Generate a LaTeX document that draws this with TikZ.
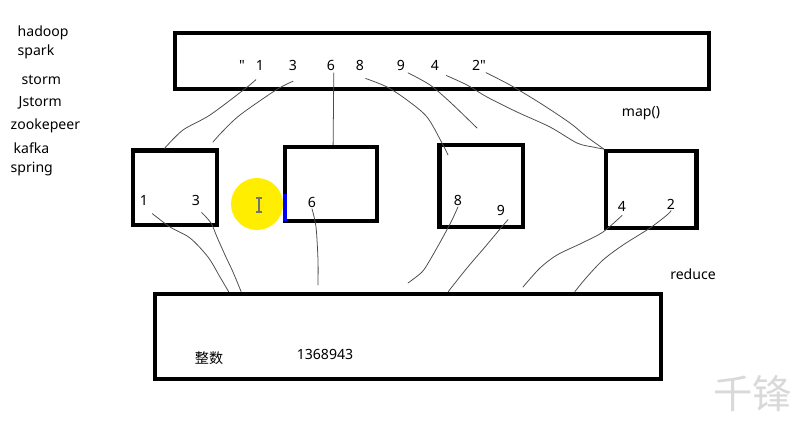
\documentclass[tikz,border=0pt]{standalone}
\usepackage{fontspec}
\setmainfont{Noto Sans}
\newfontfamily\cjk{Noto Sans CJK SC}
\newfontfamily\qfont{Noto Sans}[Ligatures=TeXOff]
\usepackage{xcolor}
\usetikzlibrary{positioning}

\definecolor{cursorhl}{RGB}{255,238,0}
\newcommand{\dq}{{\qfont\char34}}

\begin{document}
\begin{tikzpicture}[
  x=0.025cm, y=-0.025cm,
  box/.style={rectangle, draw, line width=3pt, inner sep=0pt},
  txt/.style={font=\fontsize{10}{12}\selectfont, inner sep=1pt},
  num/.style={txt, anchor=base},
  tool/.style={txt, anchor=base west},
  wire/.style={draw=black!70, line width=0.55pt, line cap=round, line join=round}
]
\fill[white] (0,0) rectangle (790,427);
\useasboundingbox (0,0) rectangle (790,427);

% left list
\node[tool] (hadoop) at (16,37) {hadoop};
\node[tool] (spark) at (16,56) {spark};
\node[tool] (storm) at (20,85) {storm};
\node[tool] (jstorm) at (17,107) {Jstorm};
\node[tool] (zoo) at (9,130) {zookepeer};
\node[tool] (kafka) at (12,153) {kafka};
\node[tool] (spring) at (9,173) {spring};

% cursor highlight
\fill[cursorhl] (257,204) circle[radius=26];
\draw[black!55, line width=0.8pt] (259,198) -- (259,212) (256,198) -- (262,198) (256,212) -- (262,212);

% boxes
\node[box, minimum width=13.33cm, minimum height=1.4cm] (input) at (442,60.7) {};
\node[box, minimum width=2.1cm, minimum height=1.86cm] (mapA) at (175,187.75) {};
\node[box, minimum width=2.3cm, minimum height=1.85cm] (mapB) at (331,184) {};
\node[box, minimum width=2.09cm, minimum height=2.04cm] (mapC) at (481.25,186.2) {};
\node[box, minimum width=2.26cm, minimum height=1.92cm] (mapD) at (651.25,189.6) {};
\node[box, minimum width=12.64cm, minimum height=2.13cm] (result) at (408,336.3) {};
\draw[blue, line width=3pt] (285,194) -- (285,221);

% input string
\node[num] (qopen) at (242,71) {\dq};
\node[num] (in1) at (260,71) {1};
\node[num] (in3) at (293,71) {3};
\node[num] (in6) at (331,71) {6};
\node[num] (in8) at (360,71) {8};
\node[num] (in9) at (401,71) {9};
\node[num] (in4) at (435,71) {4};
\node[num] (in2) at (479,71) {2\dq};

% map outputs
\node[num] (a1) at (144,205) {1};
\node[num] (a3) at (196,205) {3};
\node[num] (b6) at (312,207) {6};
\node[num] (c8) at (458,205) {8};
\node[num] (c9) at (501,215) {9};
\node[num] (d4) at (622,211) {4};
\node[num] (d2) at (671,209) {2};

\node[num] (maplbl) at (641,116) {map()};
\node[num] (reducelbl) at (693,279) {reduce};
\node[txt] (intlbl) at (209,358) {\cjk 整数};
\node[num] (total) at (325,359) {1368943};

% free ends
\coordinate (a3top) at (213,142);
\coordinate (c8in) at (448,155);
\coordinate (midfree) at (477,128);
\coordinate (b6foot) at (318,285);
\coordinate (c8foot) at (408,283);
\coordinate (d4foot) at (523,287);

% split
\draw[wire] plot[smooth, tension=0.5] coordinates {([xshift=-3pt,yshift=-5pt]in1.south) (246,88) (210,115) (183,130) (mapA.105)};
\draw[wire] plot[smooth, tension=0.5] coordinates {([yshift=-6pt]in3.south) (276,90) (240,115) (222,132) (a3top)};
\draw[wire] ([xshift=2pt]in6.south) -- ([xshift=1.5pt]mapB.north);
\draw[wire] plot[smooth, tension=0.5] coordinates {([xshift=4pt,yshift=-4pt]in8.south) (387,87) (407,100) (427,117) (442,143) (c8in)};
\draw[wire] plot[smooth, tension=0.5] coordinates {([xshift=5pt]in9.south) (430,85) (450,102) (midfree)};
\draw[wire] plot[smooth, tension=0.5] coordinates {([xshift=8pt,yshift=-2pt]in4.south) (467,85) (487,97) (517,112) (550,127) (577,143) (593,147) (mapD.north west)};
\draw[wire] plot[smooth, tension=0.5] coordinates {([xshift=5pt]in2.south) (510,85) (540,103) (570,123) (587,137) (mapD.north west)};

% reduce
\draw[wire] plot[smooth, tension=0.5] coordinates {([xshift=6pt,yshift=-5pt]a1.south) (170,227) (190,238) (208,257) (220,277) (result.166.1)};
\draw[wire] plot[smooth, tension=0.5] coordinates {([xshift=4pt,yshift=-4pt]a3.south) (211,223) (217,237) (225,255) (233,272) (result.165)};
\draw[wire] plot[smooth, tension=0.5] coordinates {(b6.south) (316,227) (318,260) (b6foot)};
\draw[wire] plot[smooth, tension=0.5] coordinates {(c8.south) (452,220) (443,237) (430,260) (422,272) (c8foot)};
\draw[wire] plot[smooth, tension=0.5] coordinates {([xshift=5pt,yshift=-2pt]c9.south) (500,229) (485,247) (467,268) (result.48.1)};
\draw[wire] plot[smooth, tension=0.5] coordinates {([yshift=-2pt]d4.south) (603,232) (582,243) (557,255) (540,268) (d4foot)};
\draw[wire] plot[smooth, tension=0.5] coordinates {(d2.south) (667,215) (650,228) (623,245) (603,260) (586,278) (result.15)};

% watermark
\node[text=black!15, font=\cjk\fontsize{28}{30}\selectfont, anchor=base west, inner sep=0pt] (mark) at (713,408) {千锋};
\end{tikzpicture}
\end{document}
